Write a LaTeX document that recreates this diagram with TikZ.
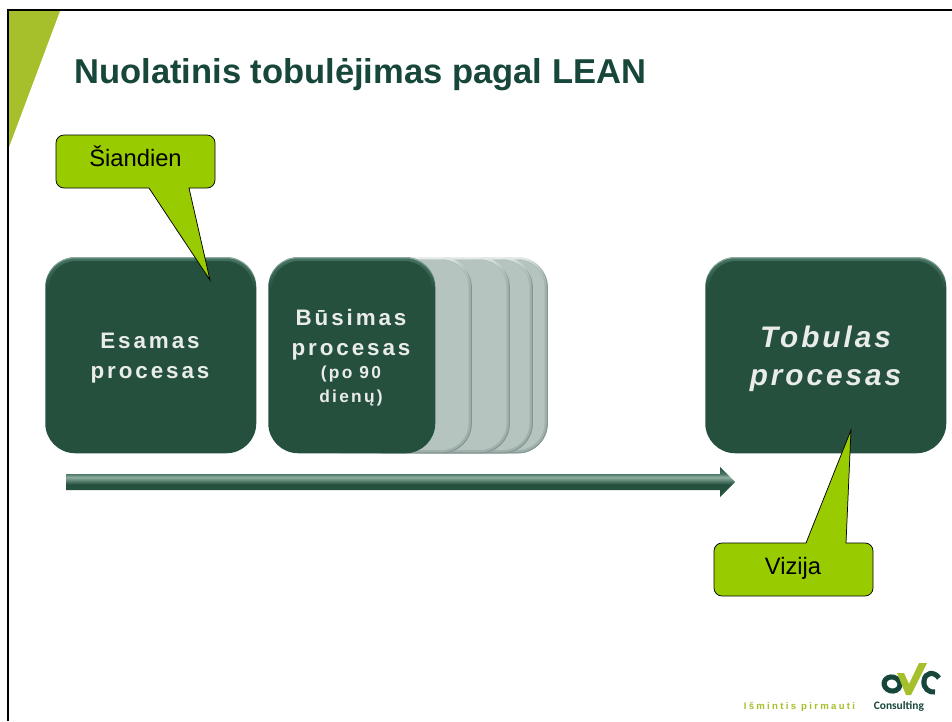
\documentclass[tikz,border=0pt]{standalone}
\usepackage{fontspec}
\usetikzlibrary{fadings}
\setmainfont{Liberation Sans}
\newfontfamily\widefont[LetterSpace=13]{Liberation Sans}
\newfontfamily\midfont[LetterSpace=10]{Liberation Sans}
\newfontfamily\sloganfont[LetterSpace=24]{Liberation Sans}
\newfontfamily\brandfont{Carlito}
\definecolor{dk}{HTML}{25503E}
\definecolor{dkm}{HTML}{467261}
\definecolor{dklt}{HTML}{8CAEA0}
\definecolor{gr}{HTML}{B5C4BF}
\definecolor{grlt}{HTML}{E8EDEB}
\definecolor{grm}{HTML}{A0B0AC}
\definecolor{grdk}{HTML}{849592}
\definecolor{lime}{HTML}{99CC00}
\definecolor{olive}{HTML}{A6C02C}
\definecolor{titlec}{HTML}{17463A}
\definecolor{txt}{HTML}{E9ECEA}
\pgfdeclareverticalshading{bevelBar}{100bp}{color(0bp)=(dk); color(25bp)=(dk); color(46bp)=(dk); color(58bp)=(dklt); color(64bp)=(dkm); color(75bp)=(dk); color(100bp)=(dk)}
\tikzset{
  darkbox/.style={fill=dk,rounded corners=22.5pt,inner sep=0pt,anchor=north west,minimum height=147pt},
  boxtext/.style={text=txt,align=center,inner sep=0pt,anchor=base},
  greybox/.style={fill=gr,rounded corners=22.5pt,inner sep=0pt,anchor=north east,minimum height=147pt,minimum width=120pt},
  calloutshape/.style={draw=black,fill=lime,line width=0.55pt},
  calltext/.style={font=\fontsize{17.8}{20}\selectfont,text=black,inner sep=0pt,anchor=base},
  big/.style={font=\widefont\bfseries\fontsize{16.8}{20}\selectfont},
  small/.style={font=\widefont\bfseries\fontsize{13}{16}\selectfont},
  ideal text/.style={font=\midfont\bfseries\itshape\fontsize{22.3}{30}\selectfont}
}
\newcommand{\darkedge}[1]{%
  \draw[dkm,line width=2.2pt,rounded corners=21pt,path fading=south] ([shift={(2.5,32)}]#1.north west) -- ([shift={(2.5,2.5)}]#1.north west) -- ([shift={(-2.5,2.5)}]#1.north east) -- ([shift={(-2.5,32)}]#1.north east);
  \draw[dklt,line width=0.9pt,rounded corners=22pt,path fading=south] ([shift={(0.7,30)}]#1.north west) -- ([shift={(0.7,0.7)}]#1.north west) -- ([shift={(-0.7,0.7)}]#1.north east) -- ([shift={(-0.7,30)}]#1.north east);
}
\newcommand{\greyedge}[1]{%
  \draw[grlt,line width=1.6pt,rounded corners=21.5pt,path fading=south] ([shift={(-90,1.2)}]#1.north east) -- ([shift={(-1.2,1.2)}]#1.north east) -- ([shift={(-1.2,30)}]#1.north east);
  \draw[grm,line width=2.2pt,rounded corners=21pt,path fading=north] ([shift={(-30,2)}]#1.north east) -- ([shift={(-2,2)}]#1.north east) -- ([shift={(-2,30)}]#1.north east);
  \draw[grm,line width=2.2pt,rounded corners=21pt] ([shift={(-2,30)}]#1.north east) -- ([shift={(-2,-2)}]#1.south east) -- ([shift={(-90,-2)}]#1.south east);
  \draw[grdk,line width=0.8pt,rounded corners=22pt,path fading=north] ([shift={(-30,0.7)}]#1.north east) -- ([shift={(-0.7,0.7)}]#1.north east) -- ([shift={(-0.7,30)}]#1.north east);
  \draw[grdk,line width=0.8pt,rounded corners=22pt] ([shift={(-0.7,30)}]#1.north east) -- ([shift={(-0.7,-0.7)}]#1.south east) -- ([shift={(-90,-0.7)}]#1.south east);
}
\begin{document}
\begin{tikzpicture}[x=0.75pt,y=-0.75pt]
\useasboundingbox (0,0) rectangle (952,721);
\fill[white] (0,0) rectangle (952,721);
% corner wedge and frame
\fill[olive] (9,11) -- (60,11) -- (9,147) -- cycle;
\draw[black,line width=1.6pt] (8,721) -- (8,10) -- (952,10);
% title
\node[anchor=base west,inner sep=0pt,text=titlec,font=\bfseries\fontsize{25.9}{30}\selectfont] (title) at (74,83) {Nuolatinis tobulėjimas pagal LEAN};
% stacked boxes
\node[greybox] (s4) at (548,257) {}; \greyedge{s4}
\node[greybox] (s3) at (533,257) {}; \greyedge{s3}
\node[greybox] (s2) at (510,257) {}; \greyedge{s2}
\node[greybox] (s1) at (472,257) {}; \greyedge{s1}
% main boxes
\node[darkbox,minimum width=158.25pt] (cur) at (45,257) {}; \darkedge{cur}
\node[darkbox,minimum width=125.25pt] (fut) at (268,257) {}; \darkedge{fut}
\node[darkbox,minimum width=180.75pt] (ideal) at (705,257) {}; \darkedge{ideal}
\node[boxtext,big] (cur1) at (150,348) {Esamas};
\node[boxtext,big] (cur2) at (150,378) {procesas};
\node[boxtext,big] (fut1) at (351,325) {Būsimas};
\node[boxtext,big] (fut2) at (351,355) {procesas};
\node[boxtext,small] (fut3) at (351,378) {(po 90};
\node[boxtext,small] (fut4) at (351,402) {dienų)};
\node[boxtext,ideal text] (ideal1) at (825.5,347) {Tobulas};
\node[boxtext,ideal text] (ideal2) at (825.5,385.5) {procesas};
% long arrow
\shade[shading=bevelBar] (66,474) -- (720,474) -- (720,467) -- (735,482) -- (720,497) -- (720,490) -- (66,490) -- cycle;
% callouts
\draw[calloutshape] (64,135) -- (207,135) arc[start angle=-90,end angle=0,radius=8] -- (215,180) arc[start angle=0,end angle=90,radius=8] -- (189,188) -- (210,280) -- (149,188) -- (64,188) arc[start angle=90,end angle=180,radius=8] -- (56,143) arc[start angle=180,end angle=270,radius=8] -- cycle;
\node[calltext] (today) at (135.5,166.5) {Šiandien};
\draw[calloutshape] (722,543) -- (806,543) -- (851,430) -- (846,543) -- (865,543) arc[start angle=-90,end angle=0,radius=8] -- (873,588) arc[start angle=0,end angle=90,radius=8] -- (722,596) arc[start angle=90,end angle=180,radius=8] -- (714,551) arc[start angle=180,end angle=270,radius=8] -- cycle;
\node[calltext] (vision) at (793,574) {Vizija};
% logo
\draw[titlec,line width=3.8pt,rotate around={-15:(892,684)}] (892,684) ellipse[x radius=8,y radius=7];
\draw[titlec,line width=3.8pt,line cap=butt] (939,678) .. controls (934,671) and (925,672) .. (924,681) .. controls (923,688) and (929,693) .. (935,692);
\fill[olive] (897,673) -- (904,673) -- (909,684) -- (919,663) -- (927,663) -- (911,695) -- (906,695) -- cycle;
\node[anchor=base west,inner sep=0pt,text=olive,font=\sloganfont\bfseries\fontsize{7.2}{8}\selectfont] (slogan) at (743.5,709) {Išmintis pirmauti};
\node[anchor=base west,inner sep=0pt,text=titlec,font=\brandfont\bfseries\fontsize{8.6}{9}\selectfont] (brand) at (873.5,709) {Consulting};
\end{tikzpicture}
\end{document}
